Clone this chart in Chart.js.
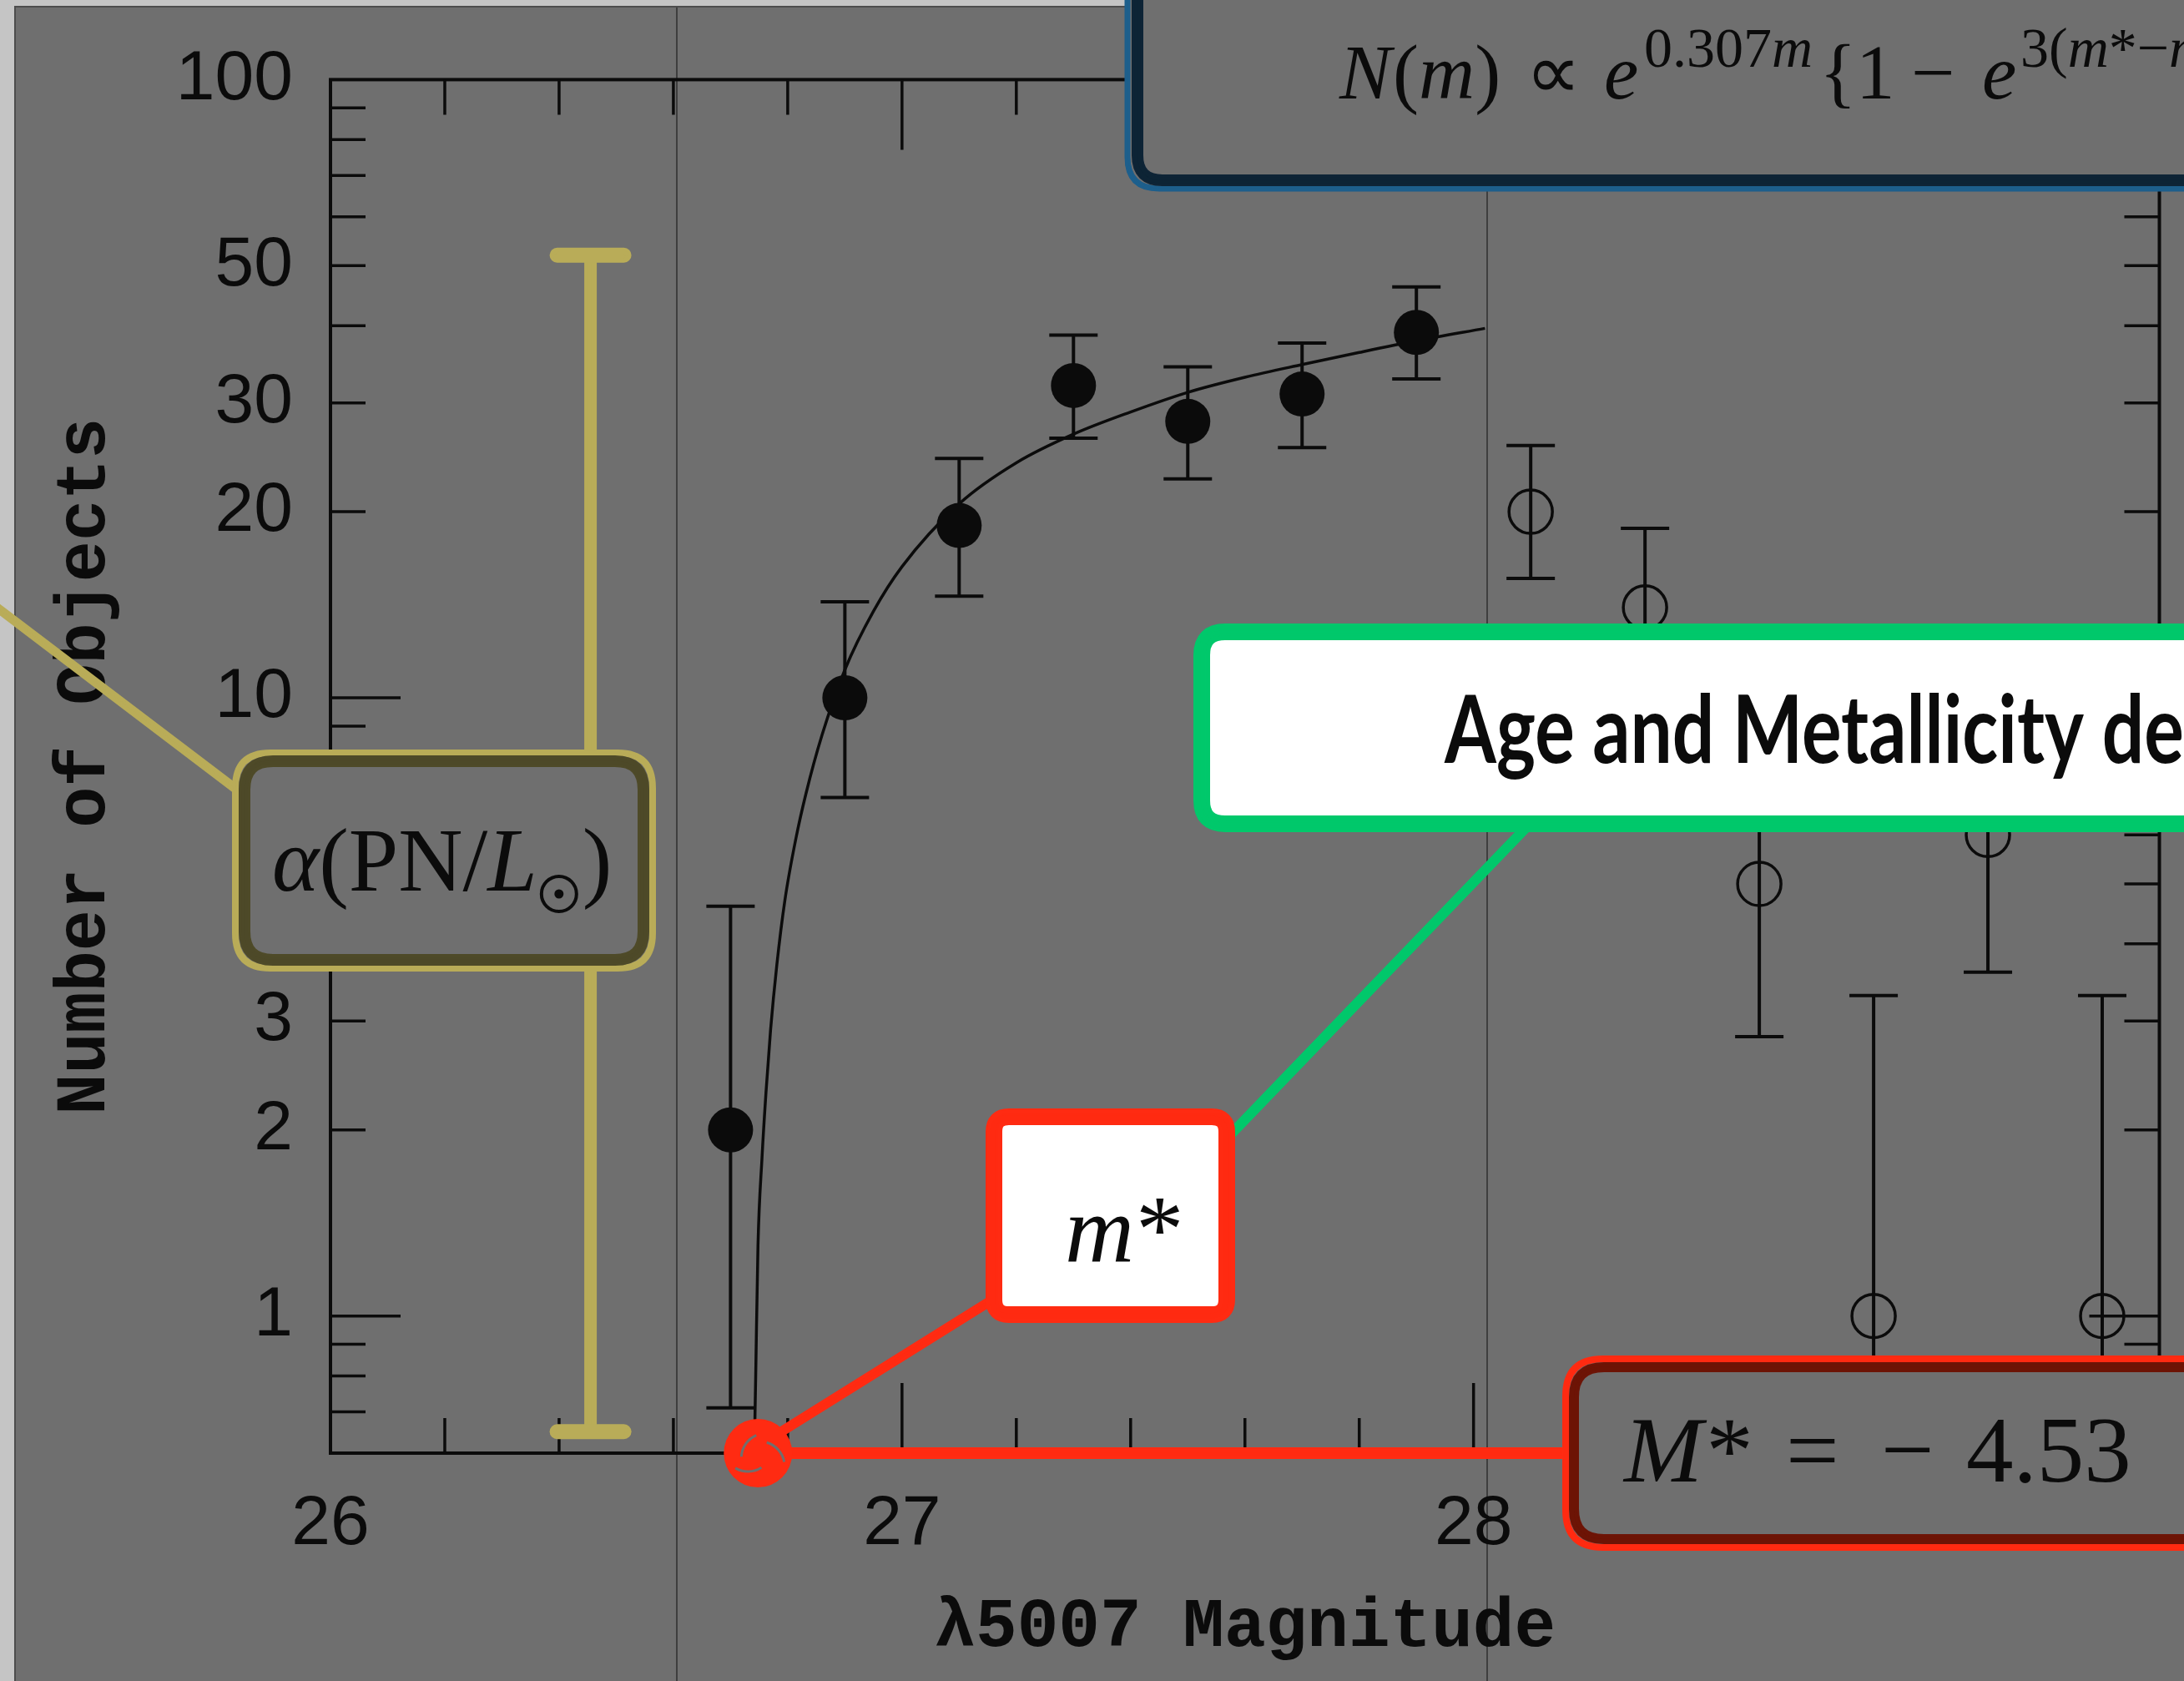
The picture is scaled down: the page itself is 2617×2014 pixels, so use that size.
<!DOCTYPE html>
<html>
<head>
<meta charset="utf-8">
<script src="https://cdn.jsdelivr.net/npm/chart.js@4"></script>
<style>
  html, body { margin: 0; padding: 0; background: #c5c5c5; overflow: hidden; }
  canvas { display: block; }
</style>
</head>
<body>
<canvas id="c" width="2617" height="2014"></canvas>
<script>
// PNe counted in each 0.2 mag bin (filled = used in the fit)
const usedMag  = [26.7, 26.9, 27.1, 27.3, 27.5, 27.7, 27.9];
const usedN    = [2, 10, 19, 32, 28, 31, 39];
const usedLow  = [0.71, 6.9, 14.6, 26.3, 22.6, 25.4, 32.8];
const usedHigh = [4.6, 14.3, 24.4, 38.6, 34.3, 37.5, 46.2];

// open circles, fainter than the completeness limit
const exclMag  = [28.1, 28.3, 28.5, 28.7, 28.9, 29.1];
const exclN    = [20, 14, 5, 1, 6, 1];
const exclLow  = [15.6, 10.3, 2.83, 0.4, 3.6, 0.4];
const exclHigh = [25.6, 18.8, 7.5, 3.3, 8.6, 3.3];

// fitted luminosity function
const fitMag = [26.742, 26.744, 26.748, 26.755, 26.762, 26.770, 26.781, 26.795, 26.814, 26.832,
                26.86, 26.90, 26.95, 27.00, 27.10, 27.20, 27.30, 27.40, 27.50, 27.60, 27.70, 27.80, 27.90, 28.02];
const fitN   = [0.63, 0.8, 1.3, 1.8, 2.3, 2.9, 3.7, 4.7, 5.9, 7.0,
                8.7, 11.1, 13.8, 16.3, 20.6, 24.0, 26.7, 29.0, 31.2, 33.0, 34.6, 36.2, 37.8, 39.6];

const xTickLabels = [26, 27, 28, 29];
const yTickLabels = [1, 2, 3, 5, 10, 20, 30, 50, 100];
const xRange = [26, 29.2];
const yRange = [0.631, 100];

// annotation anchors in data units
const mStar = 26.748;
const alphaBar = { mag: 26.455, top: 52, bottom: 0.65 };

const BG = '#6f6f6f';
const INK = '#0b0b0b';

function rrect(ctx, x, y, w, h, r) {
  ctx.beginPath();
  ctx.moveTo(x + r, y);
  ctx.lineTo(x + w - r, y);
  ctx.quadraticCurveTo(x + w, y, x + w, y + r);
  ctx.lineTo(x + w, y + h - r);
  ctx.quadraticCurveTo(x + w, y + h, x + w - r, y + h);
  ctx.lineTo(x + r, y + h);
  ctx.quadraticCurveTo(x, y + h, x, y + h - r);
  ctx.lineTo(x, y + r);
  ctx.quadraticCurveTo(x, y, x + r, y);
  ctx.closePath();
}

// chalky stroke: a main stroke plus two thin offset passes
function rough(ctx, path, color, width) {
  ctx.save();
  ctx.strokeStyle = color;
  ctx.lineCap = 'round';
  ctx.lineJoin = 'round';
  ctx.lineWidth = width;
  path(); ctx.stroke();
  ctx.lineWidth = Math.max(1.5, width * 0.3);
  ctx.globalAlpha = 0.75;
  ctx.translate(1.8, -1.5); path(); ctx.stroke();
  ctx.translate(-3.6, 3); path(); ctx.stroke();
  ctx.restore();
}

function line(ctx, x1, y1, x2, y2) {
  return () => { ctx.beginPath(); ctx.moveTo(x1, y1); ctx.lineTo(x2, y2); };
}

// runs of serif text with italic / superscript pieces
function drawRun(ctx, x, y, parts) {
  for (const p of parts) {
    ctx.font = (p.i ? 'italic ' : '') + p.s + 'px "Liberation Serif"';
    if (p.at !== undefined) x = p.at;
    if (p.gap) x += p.gap;
    ctx.fillText(p.t, x, y + (p.dy || 0));
    x += ctx.measureText(p.t).width;
  }
  return x;
}

// text squeezed to a given width and cap height
function fitText(ctx, text, x, y, width, cap, font, align) {
  ctx.save();
  ctx.font = font.replace('SIZE', 100);
  const w = ctx.measureText(text).width;
  const size = 100 * width / w;
  ctx.font = font.replace('SIZE', size.toFixed(2));
  const capNow = ctx.measureText('M').actualBoundingBoxAscent;
  ctx.translate(x, y);
  ctx.scale(1, cap / capNow);
  ctx.textAlign = align || 'center';
  ctx.textBaseline = 'alphabetic';
  ctx.fillText(text, 0, 0);
  ctx.restore();
}

const backdrop = {
  id: 'backdrop',
  beforeDraw(chart) {
    const ctx = chart.ctx;
    ctx.save();
    ctx.fillStyle = '#c5c5c5';
    ctx.fillRect(0, 0, chart.width, chart.height);
    ctx.fillStyle = BG;
    ctx.fillRect(19, 9, chart.width, chart.height);
    ctx.strokeStyle = '#4d4d4d';
    ctx.lineWidth = 2;
    ctx.beginPath();
    ctx.moveTo(18, chart.height); ctx.lineTo(18, 8); ctx.lineTo(chart.width, 8);
    ctx.stroke();
    // slide guide lines
    ctx.strokeStyle = '#2e2e2e';
    ctx.lineWidth = 1.5;
    [811, 1782].forEach(gx => {
      ctx.beginPath(); ctx.moveTo(gx, 9); ctx.lineTo(gx, chart.height); ctx.stroke();
    });
    ctx.restore();
  }
};

const errorBars = {
  id: 'errorBars',
  beforeDatasetsDraw(chart) {
    const ctx = chart.ctx, xs = chart.scales.x, ys = chart.scales.y, a = chart.chartArea;
    ctx.save();
    ctx.beginPath();
    ctx.rect(a.left, a.top, a.right - a.left, a.bottom - a.top);
    ctx.clip();
    ctx.strokeStyle = INK;
    ctx.lineWidth = 4;
    const sets = [[usedMag, usedLow, usedHigh], [exclMag, exclLow, exclHigh]];
    sets.forEach(([mags, lo, hi]) => {
      mags.forEach((m, i) => {
        const x = xs.getPixelForValue(m);
        const y1 = ys.getPixelForValue(lo[i]);
        const y2 = ys.getPixelForValue(hi[i]);
        ctx.beginPath();
        ctx.moveTo(x, y1); ctx.lineTo(x, y2);
        ctx.moveTo(x - 29, y1); ctx.lineTo(x + 29, y1);
        ctx.moveTo(x - 29, y2); ctx.lineTo(x + 29, y2);
        ctx.stroke();
      });
    });
    ctx.restore();
  }
};

// box frame with inward ticks on all four sides
const frame = {
  id: 'frame',
  afterDatasetsDraw(chart) {
    const ctx = chart.ctx, xs = chart.scales.x, ys = chart.scales.y, a = chart.chartArea;
    ctx.save();
    ctx.strokeStyle = INK;
    ctx.lineWidth = 4;
    ctx.strokeRect(a.left, a.top, a.right - a.left, a.bottom - a.top);
    ctx.lineWidth = 3.5;
    ctx.beginPath();
    for (let k = 1; k < 16; k++) {
      const m = xRange[0] + k * 0.2;
      const x = xs.getPixelForValue(m);
      const len = Math.abs(m - Math.round(m)) < 1e-6 ? 84 : 42;
      ctx.moveTo(x, a.bottom); ctx.lineTo(x, a.bottom - len);
      ctx.moveTo(x, a.top); ctx.lineTo(x, a.top + len);
    }
    [0.1, 1, 10].forEach(dec => {
      for (let k = 1; k <= 9; k++) {
        const v = k * dec;
        if (v <= yRange[0] || v >= yRange[1]) continue;
        const y = ys.getPixelForValue(v);
        const len = k === 1 ? 84 : 42;
        ctx.moveTo(a.left, y); ctx.lineTo(a.left + len, y);
        ctx.moveTo(a.right, y); ctx.lineTo(a.right - len, y);
      }
    });
    ctx.stroke();
    ctx.restore();
  }
};

const overlays = {
  id: 'overlays',
  afterDraw(chart) {
    const ctx = chart.ctx, xs = chart.scales.x, ys = chart.scales.y, a = chart.chartArea;
    ctx.save();
    ctx.fillStyle = INK;

    // axis titles
    fitText(ctx, 'λ5007 Magnitude', (a.left + a.right) / 2, 1972, 745, 56, 'bold SIZEpx "Liberation Mono"');
    ctx.save();
    ctx.translate(125, (a.top + a.bottom) / 2);
    ctx.rotate(-Math.PI / 2);
    fitText(ctx, 'Number of Objects', 0, 0, 835, 56, 'bold SIZEpx "Liberation Mono"');
    ctx.restore();

    // yellow bracket + alpha box
    const KH = '#b9ac58', OL = '#4e4a28';
    const bx = xs.getPixelForValue(alphaBar.mag);
    const bt = ys.getPixelForValue(alphaBar.top), bb = ys.getPixelForValue(alphaBar.bottom);
    rough(ctx, line(ctx, bx, bt, bx, bb), KH, 15);
    rough(ctx, line(ctx, bx - 40, bt, bx + 40, bt), KH, 18);
    rough(ctx, line(ctx, bx - 40, bb, bx + 40, bb), KH, 18);
    rough(ctx, line(ctx, 285, 947, -10, 723), KH, 11);
    rrect(ctx, 282, 902, 500, 258, 42);
    ctx.fillStyle = BG; ctx.fill();
    rough(ctx, () => rrect(ctx, 282, 902, 500, 258, 42), KH, 8);
    rough(ctx, () => rrect(ctx, 293, 912, 478, 238, 34), OL, 14);
    ctx.fillStyle = INK;
    let cx = drawRun(ctx, 326, 1067, [
      { t: 'α', i: 1, s: 107 }, { t: '(PN/', s: 107 }, { t: 'L', i: 1, s: 107 }
    ]);
    ctx.strokeStyle = INK; ctx.lineWidth = 4;
    ctx.beginPath(); ctx.arc(cx + 26, 1071, 21, 0, Math.PI * 2); ctx.stroke();
    ctx.beginPath(); ctx.arc(cx + 26, 1071, 5.5, 0, Math.PI * 2); ctx.fill();
    drawRun(ctx, cx + 54, 1067, [{ t: ')', s: 107 }]);

    // blue formula box (runs off the top and right)
    rrect(ctx, 1351, -60, 1400, 286, 38);
    ctx.fillStyle = BG; ctx.fill();
    rough(ctx, () => rrect(ctx, 1351, -60, 1400, 286, 38), '#1d5f8c', 7);
    rough(ctx, () => rrect(ctx, 1363, -60, 1400, 276, 30), '#0e2436', 14);
    ctx.fillStyle = INK;
    drawRun(ctx, 1605, 118, [
      { t: 'N', i: 1, s: 93 }, { t: '(', s: 93, gap: 2 }, { t: 'm', i: 1, s: 93 }, { t: ')', s: 93 },
      { t: '∝', s: 93, at: 1828 }, { t: 'e', i: 1, s: 93, at: 1922 },
      { t: '0.307', s: 68, dy: -38, at: 1970 }, { t: 'm', i: 1, s: 68, dy: -38 },
      { t: '{', s: 93, at: 2180 }, { t: '1', s: 93, at: 2224 }, { t: '−', s: 93, at: 2290 },
      { t: 'e', i: 1, s: 93, at: 2375 }, { t: '3(', s: 68, dy: -38, at: 2421 },
      { t: 'm', i: 1, s: 68, dy: -38 }, { t: '*−', s: 68, dy: -38 }, { t: 'm', i: 1, s: 68, dy: -38 },
      { t: ')', s: 68, dy: -38 }, { t: '}', s: 93 }
    ]);

    // leaders to the m* box and the red marker line
    const RD = '#ff2b12';
    rough(ctx, line(ctx, 1835, 985, 1472, 1362), '#00c86b', 12);
    rough(ctx, line(ctx, 1188, 1558, 935, 1716), RD, 12);
    const mx = xs.getPixelForValue(mStar);
    rough(ctx, line(ctx, mx + 30, a.bottom, 1885, a.bottom), RD, 14);
    ctx.fillStyle = RD;
    ctx.beginPath(); ctx.arc(mx, a.bottom, 41, 0, Math.PI * 2); ctx.fill();
    ctx.strokeStyle = BG; ctx.lineWidth = 3;
    [[-12, -8, 1.0], [10, 6, 3.2], [2, 16, 5.0]].forEach(([ox, oy, s]) => {
      ctx.beginPath(); ctx.arc(mx + ox, a.bottom + oy, 30, s, s + 1.1); ctx.stroke();
    });

    // green text box
    rrect(ctx, 1440, 757, 1300, 230, 28);
    ctx.fillStyle = '#ffffff'; ctx.fill();
    rough(ctx, () => rrect(ctx, 1440, 757, 1300, 230, 28), '#00c86b', 20);
    ctx.fillStyle = INK;
    fitText(ctx, 'Age and Metallicity de', 1731, 914, 886, 82, 'bold SIZEpx Lato', 'left');

    // m* box
    rrect(ctx, 1191, 1338, 279, 237, 18);
    ctx.fillStyle = '#ffffff'; ctx.fill();
    rough(ctx, () => rrect(ctx, 1191, 1338, 279, 237, 18), RD, 20);
    ctx.fillStyle = INK;
    drawRun(ctx, 1276, 1511, [{ t: 'm', i: 1, s: 115 }, { t: '*', s: 115, gap: 2 }]);

    // M* box
    rrect(ctx, 1876, 1628, 900, 226, 45);
    ctx.fillStyle = BG; ctx.fill();
    rough(ctx, () => rrect(ctx, 1876, 1628, 900, 226, 45), RD, 8);
    rough(ctx, () => rrect(ctx, 1886, 1638, 900, 206, 36), '#6d1406', 12);
    ctx.fillStyle = INK;
    drawRun(ctx, 1946, 1775, [
      { t: 'M', i: 1, s: 113 }, { t: '*', s: 113, gap: 4 },
      { t: '=', s: 113, at: 2140 }, { t: '−', s: 113, at: 2254 }, { t: '4.53', s: 113, at: 2356 }
    ]);
    ctx.restore();
  }
};

const tickFont = { family: '"Liberation Sans"', size: 84 };

new Chart(document.getElementById('c'), {
  type: 'scatter',
  data: {
    datasets: [
      {
        label: 'fit',
        type: 'line',
        data: fitMag.map((m, i) => ({ x: m, y: fitN[i] })),
        borderColor: INK,
        borderWidth: 3.5,
        pointRadius: 0,
        fill: false,
        cubicInterpolationMode: 'monotone',
        order: 3
      },
      {
        label: 'used',
        data: usedMag.map((m, i) => ({ x: m, y: usedN[i] })),
        pointRadius: 27,
        backgroundColor: INK,
        borderWidth: 0,
        order: 1
      },
      {
        label: 'excluded',
        data: exclMag.map((m, i) => ({ x: m, y: exclN[i] })),
        pointRadius: 26,
        backgroundColor: 'rgba(0,0,0,0)',
        borderColor: INK,
        borderWidth: 3.5,
        order: 2
      }
    ]
  },
  options: {
    responsive: false,
    animation: false,
    layout: { padding: { left: 0, top: 92, right: 22, bottom: 0 } },
    scales: {
      x: {
        type: 'linear',
        min: xRange[0], max: xRange[1],
        afterBuildTicks: s => { s.ticks = xTickLabels.map(v => ({ value: v })); },
        afterFit: s => { s.height = 273; },
        grid: { display: false, drawTicks: false },
        border: { display: false },
        ticks: { autoSkip: false, maxRotation: 0, padding: 35, color: INK, font: tickFont, callback: v => String(v) }
      },
      y: {
        type: 'logarithmic',
        min: yRange[0], max: yRange[1],
        afterBuildTicks: s => { s.ticks = yTickLabels.map(v => ({ value: v })); },
        afterFit: s => { s.width = 396; },
        grid: { display: false, drawTicks: false },
        border: { display: false },
        ticks: { autoSkip: false, padding: 45, color: INK, font: tickFont, callback: v => String(v) }
      }
    },
    plugins: { legend: { display: false }, tooltip: { enabled: false } }
  },
  plugins: [backdrop, errorBars, frame, overlays]
});
</script>
</body>
</html>
